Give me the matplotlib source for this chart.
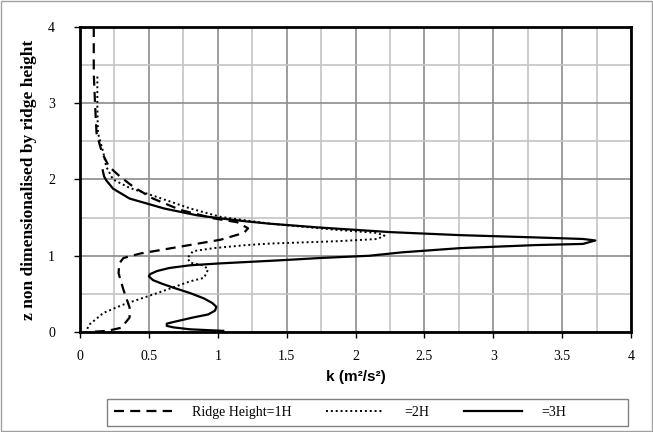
import numpy as np
import matplotlib
matplotlib.use("Agg")
import matplotlib.pyplot as plt
from matplotlib.patches import Rectangle
from matplotlib.ticker import MultipleLocator

# profiles: k and z/H
k_1h = [0.10, 0.10, 0.11, 0.12, 0.16, 0.21, 0.29, 0.39, 0.53, 0.73, 0.97, 1.14, 1.22,
        1.19, 1.02, 0.73, 0.44, 0.315, 0.285, 0.28, 0.315, 0.36, 0.36, 0.30, 0.20, 0.07]
z_1h = [4.0, 3.39, 2.96, 2.61, 2.35, 2.17, 2.04, 1.90, 1.75, 1.60, 1.49, 1.44, 1.36,
        1.30, 1.21, 1.12, 1.03, 0.97, 0.90, 0.77, 0.556, 0.32, 0.19, 0.056, 0.015, 0.0]

k_2h = [0.126, 0.126, 0.13, 0.17, 0.19, 0.24, 0.36, 0.56, 0.80, 1.02, 1.26, 1.38, 1.86,
        2.15, 2.21, 2.16, 1.86, 1.38, 1.21, 0.97, 0.82, 0.78, 0.80, 0.90, 0.93, 0.90,
        0.80, 0.56, 0.315, 0.17, 0.07, 0.04]
z_2h = [3.35, 2.96, 2.61, 2.35, 2.17, 2.00, 1.89, 1.77, 1.62, 1.51, 1.45, 1.42, 1.34,
        1.30, 1.265, 1.22, 1.19, 1.16, 1.14, 1.10, 1.06, 0.97, 0.91, 0.87, 0.82, 0.71,
        0.665, 0.51, 0.36, 0.25, 0.10, 0.0]

k_3h = [0.165, 0.175, 0.19, 0.24, 0.36, 0.61, 0.85, 1.02, 1.21, 1.38, 1.74, 2.25, 2.76,
        3.31, 3.65, 3.74, 3.65, 3.31, 2.76, 2.34, 2.10, 1.74, 1.45, 1.02, 0.80, 0.65,
        0.56, 0.51, 0.50, 0.53, 0.60, 0.68, 0.80, 0.90, 0.96, 0.99, 0.98, 0.93, 0.82,
        0.70, 0.63, 0.63, 0.68, 0.80, 1.04]
z_3h = [2.12, 2.04, 1.99, 1.88, 1.75, 1.62, 1.53, 1.49, 1.45, 1.42, 1.37, 1.31, 1.27,
        1.24, 1.22, 1.20, 1.155, 1.14, 1.10, 1.045, 1.00, 0.97, 0.94, 0.90, 0.875, 0.84,
        0.80, 0.76, 0.73, 0.68, 0.63, 0.58, 0.51, 0.44, 0.38, 0.33, 0.28, 0.23, 0.19,
        0.14, 0.11, 0.08, 0.06, 0.035, 0.015]

labels = ["Ridge Height=1H", "=2H", "=3H"]
xticks = [0, 0.5, 1, 1.5, 2, 2.5, 3, 3.5, 4]
xtick_labels = ["0", "0.5", "1", "1.5", "2", "2.5", "3", "3.5", "4"]
yticks = [0, 1, 2, 3, 4]
ytick_labels = ["0", "1", "2", "3", "4"]

fig = plt.figure(figsize=(6.53, 4.32), dpi=100)
ax = fig.add_axes([0.1225, 0.2315, 0.844, 0.706])

l1, = ax.plot(k_1h, z_1h, color="black", lw=1.6, ls=(0, (4.5, 2.8)))
l2, = ax.plot(k_2h, z_2h, color="black", lw=1.4, ls=(0, (1, 1.5)))
l3, = ax.plot(k_3h, z_3h, color="black", lw=1.6, ls="-")

ax.set_xlim(0, 4)
ax.set_ylim(0, 4)
ax.set_xticks(xticks, xtick_labels, family="Liberation Serif", fontsize=10)
ax.set_yticks(yticks, ytick_labels, family="Liberation Serif", fontsize=10)
ax.xaxis.set_minor_locator(MultipleLocator(0.25))
ax.yaxis.set_minor_locator(MultipleLocator(0.5))
ax.grid(which="major", color="#8c8c8c", lw=1.2)
ax.grid(which="minor", color="#c4c4c4", lw=1.2)
ax.set_axisbelow(True)
ax.tick_params(which="minor", length=0)
ax.tick_params(which="major", direction="out", length=4, width=1)
ax.tick_params(axis="x", pad=9)
ax.tick_params(axis="y", pad=14)
for sp in ax.spines.values():
    sp.set_linewidth(2)

ax.set_xlabel("k (m²/s²)", family="Liberation Sans", fontweight="bold",
              fontsize=11, labelpad=5)
ax.set_ylabel("z non dimensionalised by ridge height", family="Liberation Serif",
              fontweight="bold", fontsize=12.5, labelpad=8)

# legend box drawn separately, entries placed inside it
fig.patches.append(Rectangle((107 / 653, 6 / 432), 521 / 653, 27 / 432,
                             transform=fig.transFigure, fill=False,
                             edgecolor="#808080", lw=1))
fig.legend([l1, l2, l3], labels, loc="center left", ncol=3,
           bbox_to_anchor=(114 / 653, 19.5 / 432), frameon=False,
           handlelength=4.2, handletextpad=1.4, columnspacing=2.5,
           prop={"family": "Liberation Serif", "size": 10},
           borderaxespad=0, borderpad=0)

fig.patches.append(Rectangle((0.002, 0.002), 0.996, 0.996, transform=fig.transFigure,
                             fill=False, edgecolor="#a0a0a0", lw=1))

fig.savefig("out.png", dpi=100)
